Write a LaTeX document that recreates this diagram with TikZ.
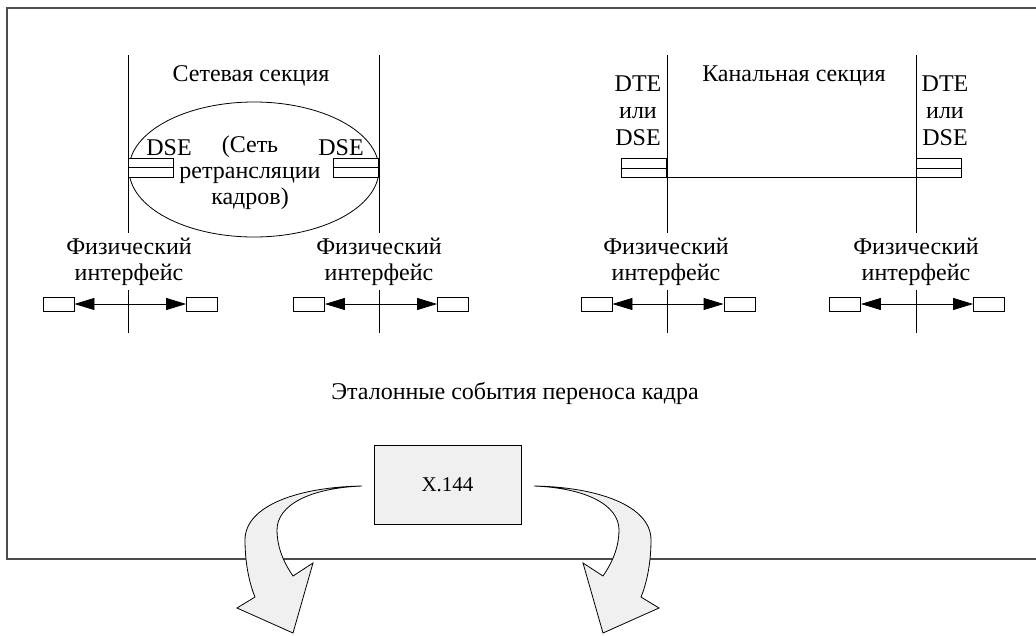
\documentclass[tikz,border=0pt]{standalone}
\usepackage{fontspec}
\setmainfont{Liberation Serif}
\usetikzlibrary{arrows.meta,shapes.geometric}
\begin{document}
\begin{tikzpicture}[x=1pt,y=-1pt,
 every node/.style={font=\fontsize{24}{26}\selectfont},
 ln/.style={line width=0.8pt},
 sbox/.style={draw,line width=0.8pt,minimum width=31pt,minimum height=14pt,inner sep=0pt},
 dbox/.style={draw,fill=white,line width=0.8pt,minimum width=45pt,minimum height=19pt,inner sep=0pt},
 lbl/.style={align=center,inner sep=0pt},
 dbl/.style={line width=0.8pt,{Triangle[length=20pt,width=12pt]}-{Triangle[length=20pt,width=12pt]}},
 bigarrow/.style={draw,line width=0.8pt,fill=black!6},
 frame/.style={draw=black!70,line width=2pt}
]
\useasboundingbox (0,0) rectangle (1036,635);
\draw[frame] (7,8) rectangle (1050,559);

% ---- left section
\node[ellipse,draw,line width=0.8pt,minimum width=250pt,minimum height=135pt,inner sep=0pt] (net) at (254,169.5) {};
\coordinate (a1) at (128,55); \coordinate (a2) at (128,233);
\coordinate (a3) at (128,290); \coordinate (a4) at (128,333);
\coordinate (b1) at (379,55); \coordinate (b2) at (379,233);
\coordinate (b3) at (379,290); \coordinate (b4) at (379,333);
\draw[ln] (a1) -- (a2); \draw[ln] (a3) -- (a4);
\draw[ln] (b1) -- (b2); \draw[ln] (b3) -- (b4);
\node[lbl] (sect1) at (251,76) {Сетевая секция};
\node[dbox] (dl) at (150.5,167.5) {}; \draw[ln] (dl.west) -- (dl.east);
\node[dbox] (dr) at (356,167.5) {}; \draw[ln] (dr.west) -- (dr.east);
\node[lbl] (dsel) at (169,148) {DSE};
\node[lbl] (dser) at (341,148) {DSE};
\node[lbl] (netlbl) at (250,173) {(Сеть\\ретрансляции\\кадров)};

% ---- right section
\coordinate (c1) at (667,55); \coordinate (c2) at (667,233);
\coordinate (c3) at (667,290); \coordinate (c4) at (667,333);
\coordinate (d1) at (916,55); \coordinate (d2) at (916,233);
\coordinate (d3) at (916,290); \coordinate (d4) at (916,333);
\draw[ln] (c1) -- (c2); \draw[ln] (c3) -- (c4);
\draw[ln] (d1) -- (d2); \draw[ln] (d3) -- (d4);
\node[lbl] (sect2) at (794,76) {Канальная секция};
\node[lbl,font=\fontsize{24}{27}\selectfont] (dte1) at (638,111) {DTE\\или\\DSE};
\node[lbl,font=\fontsize{24}{27}\selectfont] (dte2) at (945,111) {DTE\\или\\DSE};
\node[dbox] (el) at (643.5,168) {}; \draw[ln] (el.west) -- (el.east);
\node[dbox] (er) at (939,168) {}; \draw[ln] (er.west) -- (er.east);
\coordinate (h1) at (667,177.5); \coordinate (h2) at (916,177.5);
\draw[ln] (h1) -- (h2);

% ---- physical interfaces
\node[lbl] (pi1) at (129,262) {Физический\\интерфейс};
\node[lbl] (pi2) at (379,262) {Физический\\интерфейс};
\node[lbl] (pi3) at (666,262) {Физический\\интерфейс};
\node[lbl] (pi4) at (916,262) {Физический\\интерфейс};

\node[sbox] (s1l) at (58.5,304) {};  \node[sbox] (s1r) at (202,304) {};
\node[sbox] (s2l) at (309,304) {};   \node[sbox] (s2r) at (453,304) {};
\node[sbox] (s3l) at (596.5,304) {}; \node[sbox] (s3r) at (739.5,304) {};
\node[sbox] (s4l) at (845,304) {};   \node[sbox] (s4r) at (989,304) {};
\draw[dbl] (s1l.east) -- (s1r.west);
\draw[dbl] (s2l.east) -- (s2r.west);
\draw[dbl] (s3l.east) -- (s3r.west);
\draw[dbl] (s4l.east) -- (s4r.west);

% ---- bottom
\node[lbl] (ref) at (515,393) {Эталонные события переноса кадра};
\node[draw,line width=0.8pt,fill=black!6,minimum width=147pt,minimum height=79pt,inner sep=0pt,font=\fontsize{21}{24}\selectfont] (x144) at (447.5,484.5) {X.144};

\coordinate (tl) at (362,486);
\coordinate (tr) at (534,486);
\path[bigarrow] (tl) .. controls (300,487) and (245,505) .. (245,540)
  .. controls (245,565) and (250,585) .. (255,597)
  -- (237,608) -- (293,633) -- (313,563) -- (293,576)
  .. controls (282,560) and (277,545) .. (277,530)
  .. controls (277,505) and (310,488) .. (tl) -- cycle;
\path[bigarrow] (tr) .. controls (596,487) and (651,505) .. (651,540)
  .. controls (651,565) and (646,585) .. (641,597)
  -- (659,608) -- (603,633) -- (583,563) -- (603,576)
  .. controls (614,560) and (619,545) .. (619,530)
  .. controls (619,505) and (586,488) .. (tr) -- cycle;
\end{tikzpicture}
\end{document}
